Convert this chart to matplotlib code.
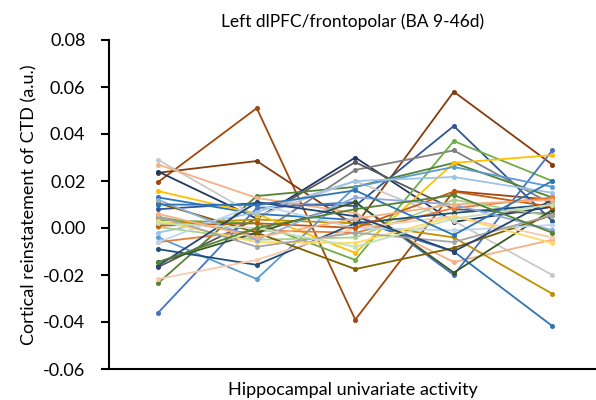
import matplotlib
matplotlib.use("Agg")
import matplotlib.pyplot as plt

plt.rcParams['font.family'] = ['Lato', 'DejaVu Sans']

# categories along the x axis (unlabelled levels of hippocampal activity)
levels = [1, 2, 3, 4, 5]

# one entry per participant: (colour, values at the 5 levels)
colors = [
    '#9E480E', '#843C0C', '#203864', '#2F5597', '#7F7F7F', '#595959',
    '#70AD47', '#548235', '#C9C9C9', '#F4B183', '#4472C4', '#2E75B6',
    '#BF9000', '#FFC000', '#5B9BD5', '#9DC3E6', '#ED7D31', '#A9D18E',
    '#1F4E79', '#385723', '#F8CBAD', '#806000', '#BDD7EE', '#C55A11',
    '#FFD966', '#A5A5A5', '#8FAADC', '#264478', '#C5E0B4', '#F4B183',
    '#2E75B6', '#548235',
]
values = [
    [0.0196, 0.051, -0.039, 0.0157, 0.012],
    [0.0235, 0.0285, 0.001, 0.058, 0.027],
    [0.0240, 0.004, 0.030, 0.0026, 0.009],
    [0.008, 0.0106, 0.0094, 0.0434, 0.003],
    [0.0047, -0.003, 0.0247, 0.033, 0.010],
    [-0.0166, 0.004, 0.028, 0.008, 0.006],
    [0.0034, 0.002, -0.0136, 0.037, 0.020],
    [-0.0234, 0.0136, 0.0175, 0.0277, 0.013],
    [0.029, 0.005, 0.020, 0.003, -0.020],
    [0.027, 0.0128, 0.0064, -0.0145, -0.005],
    [-0.036, 0.0085, 0.011, -0.020, 0.033],
    [0.013, 0.006, 0.0034, -0.010, -0.0417],
    [0.0017, 0.0036, 0.002, -0.004, -0.028],
    [0.0157, 0.006, -0.0106, 0.0277, 0.031],
    [-0.004, -0.0217, 0.0175, 0.026, 0.0175],
    [-0.002, 0.0068, 0.020, 0.0217, 0.015],
    [-0.006, -0.001, -0.002, 0.0085, 0.013],
    [0.0004, -0.005, -0.004, 0.012, 0.005],
    [-0.009, -0.0157, 0.002, 0.0064, 0.010],
    [-0.0145, -0.002, 0.011, -0.019, 0.0077],
    [-0.0217, -0.0136, 0.0, 0.005, -0.004],
    [0.0106, -0.002, -0.0175, -0.0085, 0.0055],
    [-0.006, 0.010, 0.0, -0.001, 0.0013],
    [0.001, 0.002, 0.0, 0.0155, 0.009],
    [0.003, -0.006, -0.0064, 0.005, -0.0064],
    [0.005, -0.008, -0.002, -0.006, 0.0055],
    [0.012, -0.005, 0.013, 0.010, -0.0009],
    [-0.016, 0.011, 0.005, -0.010, 0.012],
    [0.002, 0.0, -0.008, 0.004, 0.010],
    [0.006, -0.004, 0.004, 0.010, 0.012],
    [0.010, 0.0098, 0.016, -0.003, 0.020],
    [-0.0145, 0.0, 0.008, 0.014, -0.002],
]
yticks = [-0.06, -0.04, -0.02, 0.00, 0.02, 0.04, 0.06, 0.08]

fig = plt.figure(figsize=(5.96, 4.0), dpi=100)
ax = fig.add_axes([0.1829, 0.0775, 0.8171, 0.8225])

for c, v in zip(colors, values):
    ax.plot(levels, v, color=c, linewidth=1.3, marker='o', markersize=2.6)

ax.set_xlim(0.5, 5.444)
ax.set_ylim(-0.06, 0.08)
ax.set_yticks(yticks)
ax.set_yticklabels([f'{t:.2f}' for t in yticks])
ax.set_xticks([])

for s in ['top', 'right']:
    ax.spines[s].set_visible(False)
ax.spines['left'].set_linewidth(1.5)
ax.spines['bottom'].set_linewidth(1.5)
ax.tick_params(axis='y', direction='out', length=6, width=1.5, labelsize=13, pad=11)

ax.set_title('Left dlPFC/frontopolar (BA 9-46d)', fontsize=12.5, pad=9)
ax.set_ylabel('Cortical reinstatement of CTD (a.u.)', fontsize=13, labelpad=4)
ax.set_xlabel('Hippocampal univariate activity', fontsize=13, labelpad=9)

fig.savefig('out.png', dpi=100)
plt.close(fig)
